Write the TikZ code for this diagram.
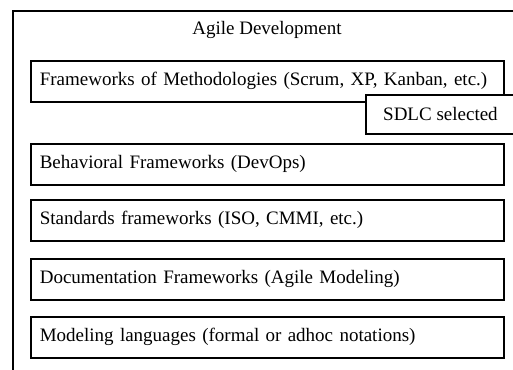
\documentclass[tikz,border=0pt]{standalone}
\usepackage{fontspec}
\setmainfont{Liberation Serif}
\begin{document}
\begin{tikzpicture}[x=1pt,y=-1pt,
  frame/.style={draw=black,line width=1.6pt,fill=white,anchor=north west,inner sep=0pt},
  layer/.style={draw=black,line width=1.6pt,fill=white,anchor=north west,
    text width=455pt,inner xsep=9pt,inner ysep=0pt,minimum height=41pt,align=left,
    font=\fontsize{19}{22}\selectfont},
  lbl/.style={font=\fontsize{19}{22}\selectfont,inner sep=0pt}]
\useasboundingbox (0,0) rectangle (513,369);
\clip (0,0) rectangle (513,369);
\fill[white] (0,0) rectangle (513,369);
\node[frame,minimum width=530pt,minimum height=400pt] (outer) at (12,10) {};
\node[lbl] (title) at (267,30) {Agile Development};
\node[layer] (b1) at (30,60) {Frameworks of Methodologies (Scrum, XP, Kanban, etc.)};
\node[draw=black,line width=1.6pt,fill=white,anchor=north west,minimum width=160pt,minimum height=39pt,inner sep=0pt] (sdlc) at (365,94) {};
\node[lbl,anchor=west] (sdlct) at (383,114) {SDLC selected};
\node[layer] (b2) at (30,143) {Behavioral Frameworks (DevOps)};
\node[layer] (b3) at (30,199) {Standards frameworks (ISO, CMMI, etc.)};
\node[layer] (b4) at (30,258) {Documentation Frameworks (Agile Modeling)};
\node[layer] (b5) at (30,316) {Modeling languages (formal or adhoc notations)};
\end{tikzpicture}
\end{document}
